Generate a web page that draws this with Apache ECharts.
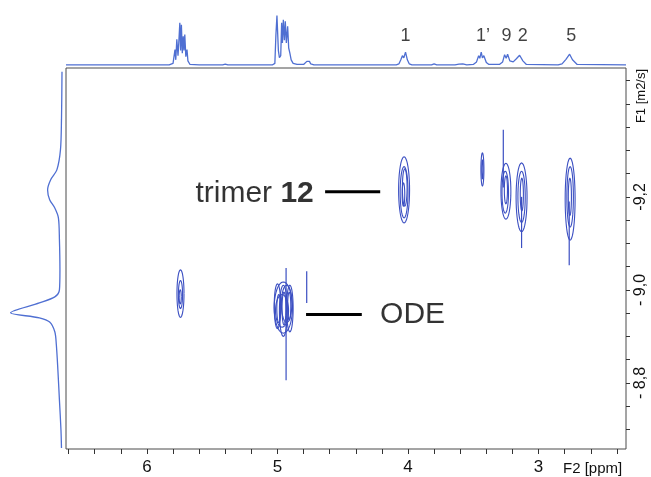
<!DOCTYPE html>
<html>
<head>
<meta charset="utf-8">
<script src="https://cdn.jsdelivr.net/npm/echarts@6/dist/echarts.min.js"></script>
<style>
  html, body { margin: 0; padding: 0; background: #fff; }
  #c1 { width: 651px; height: 477px; }
</style>
</head>
<body>
<div id="c1"></div>
<script>
// axis ranges (F2 in ppm, F1 = log D)
var f2Min = 2.33, f2Max = 6.62;
var f1Min = -9.477, f1Max = -8.658;

var f2Ticks = [6.6, 6.4, 6.2, 6.0, 5.8, 5.6, 5.4, 5.2, 5.0, 4.8, 4.6, 4.4, 4.2, 4.0, 3.8, 3.6, 3.4, 3.2, 3.0, 2.8, 2.6, 2.4];
var f2Labels = [6, 5, 4, 3];
var f1Ticks = [-9.45, -9.4, -9.35, -9.3, -9.25, -9.2, -9.15, -9.1, -9.05, -9.0, -8.95, -8.9, -8.85, -8.8, -8.75, -8.7];
var f1Labels = [-9.2, -9.0, -8.8];
var f1LabelText = { "-9.2": "-9,2", "-9.0": "- 9,0", "-8.8": "- 8,8" };

// 1D proton trace on top
var topPpm = [6.62, 5.83, 5.80, 5.785, 5.779, 5.771, 5.762, 5.756, 5.748, 5.742, 5.736, 5.729, 5.722, 5.716, 5.710, 5.702, 5.693, 5.686, 5.679, 5.67, 5.60,
  5.42, 5.40, 5.38, 5.04, 5.02, 5.012, 5.004, 4.999, 4.993, 4.985, 4.975, 4.968, 4.962, 4.955, 4.947, 4.94, 4.932, 4.922, 4.914, 4.905, 4.895, 4.88, 4.85,
  4.80, 4.785, 4.775, 4.765, 4.755, 4.745, 4.72, 4.09, 4.07, 4.055, 4.043, 4.032, 4.019, 4.005, 3.99, 3.97, 3.82, 3.80, 3.78,
  3.64, 3.625, 3.61, 3.595, 3.58, 3.565, 3.55, 3.50, 3.475, 3.459, 3.45, 3.439, 3.43, 3.419, 3.40, 3.38, 3.30, 3.275, 3.26, 3.248, 3.237, 3.22,
  3.194, 3.17, 3.145, 3.12, 3.093, 2.85, 2.82, 2.79, 2.762, 2.74, 2.704, 2.33];
var topInt = [0.02, 0.02, 0.05, 0.32, 0.12, 0.52, 0.2, 0.45, 0.84, 0.3, 0.8, 0.25, 0.58, 0.3, 0.61, 0.18, 0.32, 0.1, 0.1, 0.03, 0.02,
  0.02, 0.035, 0.02, 0.02, 0.05, 0.6, 0.98, 1.0, 0.3, 0.16, 0.2, 0.84, 0.45, 0.9, 0.5, 0.87, 0.45, 0.77, 0.35, 0.25, 0.12, 0.05, 0.03,
  0.03, 0.05, 0.09, 0.06, 0.09, 0.04, 0.02, 0.02, 0.04, 0.12, 0.2, 0.16, 0.27, 0.12, 0.04, 0.02, 0.02, 0.04, 0.02,
  0.02, 0.05, 0.035, 0.05, 0.04, 0.05, 0.02, 0.03, 0.08, 0.2, 0.15, 0.27, 0.16, 0.2, 0.07, 0.03, 0.03, 0.08, 0.22, 0.15, 0.23, 0.1,
  0.08, 0.14, 0.21, 0.1, 0.03, 0.02, 0.04, 0.13, 0.23, 0.12, 0.03, 0.02];

// diffusion projection on the left
var leftF1 = [-9.469, -9.366, -9.301, -9.258, -9.237, -9.215, -9.194, -9.176, -9.155, -9.108, -9.043, -9.0, -8.985, -8.972, -8.951, -8.940, -8.931, -8.910, -8.882, -8.828, -8.763, -8.699, -8.660];
var leftInt = [0, 0.01, 0.03, 0.1, 0.22, 0.28, 0.24, 0.14, 0.07, 0.05, 0.04, 0.05, 0.14, 0.44, 1.0, 0.44, 0.24, 0.14, 0.11, 0.08, 0.05, 0.02, 0.01];

// contour rings: [ppm, logD, half width ppm, half height logD]
var contours = [
  [5.743, -8.992, 0.027, 0.051], [5.743, -8.99, 0.016, 0.03], [5.745, -8.985, 0.008, 0.015],
  [4.955, -8.962, 0.07, 0.055], [5.00, -8.965, 0.025, 0.048], [4.955, -8.955, 0.03, 0.055], [4.905, -8.96, 0.025, 0.05],
  [4.99, -8.96, 0.015, 0.03], [4.95, -8.96, 0.015, 0.035], [4.91, -8.965, 0.012, 0.03], [4.965, -8.955, 0.05, 0.035], [4.93, -8.97, 0.04, 0.04],
  [4.03, -9.215, 0.042, 0.071], [4.03, -9.21, 0.03, 0.055], [4.025, -9.22, 0.018, 0.04], [4.035, -9.205, 0.01, 0.025],
  [3.43, -9.259, 0.0115, 0.0355], [3.43, -9.259, 0.005, 0.02],
  [3.25, -9.212, 0.038, 0.06], [3.255, -9.21, 0.025, 0.045], [3.25, -9.215, 0.012, 0.03],
  [3.13, -9.199, 0.042, 0.074], [3.13, -9.2, 0.028, 0.055], [3.128, -9.205, 0.012, 0.035],
  [2.758, -9.195, 0.038, 0.088], [2.758, -9.2, 0.025, 0.065], [2.76, -9.2, 0.012, 0.04]
];
// thin vertical streaks: [ppm, logD from, logD to]
var streaks = [
  [4.934, -9.047, -8.806], [4.776, -9.04, -8.972], [3.27, -9.344, -9.22], [3.13, -9.2, -9.09], [2.765, -9.19, -9.053]
];

var peakNames = ["1", "1\u2019", "9", "2", "5"];
var peakPpm = [4.02, 3.425, 3.245, 3.12, 2.75];

var specColor = "#4f6fd2";
var contourColor = "#3b4fc2";
var textFont = "Liberation Sans, Arial, sans-serif";

var chartDom = document.getElementById("c1");
var myChart = echarts.init(chartDom);

var topData = topPpm.map(function (p, i) { return [p, topInt[i]]; });
var leftData = leftF1.map(function (v, i) { return [leftInt[i], v]; });
var peakData = peakPpm.map(function (p, i) { return { name: peakNames[i], value: [p, 0.59] }; });

function ellipse(params, api) {
  var c = api.coord([api.value(0), api.value(1)]);
  var s = api.size([api.value(2), api.value(3)]);
  var pts = [];
  for (var k = 0; k <= 40; k++) {
    var t = (k / 40) * Math.PI * 2;
    pts.push([c[0] + s[0] * Math.cos(t), c[1] + s[1] * Math.sin(t)]);
  }
  return {
    type: "polyline",
    shape: { points: pts },
    style: { fill: null, stroke: contourColor, lineWidth: 1.1 }
  };
}

function streak(params, api) {
  var a = api.coord([api.value(0), api.value(1)]);
  var b = api.coord([api.value(0), api.value(2)]);
  return {
    type: "line",
    shape: { x1: a[0], y1: a[1], x2: b[0], y2: b[1] },
    style: { stroke: contourColor, lineWidth: 1.2 }
  };
}

var option = {
  animation: false,
  grid: [
    { left: 66, top: 68, width: 560, height: 381, show: true, borderColor: "#4a4a4a", borderWidth: 1, backgroundColor: "#fff" },
    { left: 66, top: 12, width: 560, height: 54 },
    { left: 8, top: 68, width: 54, height: 381 }
  ],
  xAxis: [
    {
      gridIndex: 0, type: "value", inverse: true, min: f2Min, max: f2Max, position: "bottom",
      axisLine: { show: false },
      axisTick: { show: true, length: 5, inside: false, customValues: f2Ticks, lineStyle: { color: "#333" } },
      axisLabel: { customValues: f2Labels, fontSize: 17, color: "#111", margin: 10, fontFamily: textFont },
      splitLine: { show: false }
    },
    { gridIndex: 1, type: "value", inverse: true, min: f2Min, max: f2Max, show: false },
    { gridIndex: 2, type: "value", inverse: true, min: 0, max: 1.05, show: false }
  ],
  yAxis: [
    {
      gridIndex: 0, type: "value", inverse: true, min: f1Min, max: f1Max, position: "right",
      axisLine: { show: false },
      axisTick: { show: true, length: 4, inside: false, customValues: f1Ticks, lineStyle: { color: "#333" } },
      axisLabel: {
        customValues: f1Labels, fontSize: 16, color: "#111", rotate: 90, margin: 7, fontFamily: textFont,
        formatter: function (v) { return f1LabelText[v.toFixed(1)] || ""; }
      },
      splitLine: { show: false }
    },
    { gridIndex: 1, type: "value", min: 0, max: 1.05, show: false },
    { gridIndex: 2, type: "value", inverse: true, min: f1Min, max: f1Max, show: false }
  ],
  graphic: [
    { type: "text", x: 563, y: 469, style: { text: "F2 [ppm]", font: "15px " + textFont, fill: "#111", textVerticalAlign: "middle" } },
    { type: "text", x: 641, y: 96, rotation: Math.PI / 2, style: { text: "F1 [m2/s]", font: "13px " + textFont, fill: "#111", textAlign: "center", textVerticalAlign: "middle" } }
  ],
  series: [
    {
      name: "1H", type: "line", xAxisIndex: 1, yAxisIndex: 1, data: topData,
      symbol: "none", lineStyle: { color: specColor, width: 1.3 }, silent: true
    },
    {
      name: "F1 projection", type: "line", xAxisIndex: 2, yAxisIndex: 2, data: leftData,
      symbol: "none", smooth: 0.3, lineStyle: { color: specColor, width: 1.3 }, silent: true
    },
    {
      name: "peaks", type: "scatter", xAxisIndex: 1, yAxisIndex: 1, data: peakData, symbolSize: 0,
      label: { show: true, position: "inside", formatter: "{b}", fontSize: 18, color: "#111", fontFamily: textFont }
    },
    {
      name: "contours", type: "custom", xAxisIndex: 0, yAxisIndex: 0, data: contours,
      renderItem: ellipse, clip: true, encode: { x: 0, y: 1 }
    },
    {
      name: "streaks", type: "custom", xAxisIndex: 0, yAxisIndex: 0, data: streaks,
      renderItem: streak, clip: true, encode: { x: 0, y: [1, 2] }
    },
    {
      name: "trimer line", type: "line", xAxisIndex: 0, yAxisIndex: 0, data: [[4.635, -9.211], [4.213, -9.211]],
      symbol: "none", lineStyle: { color: "#000", width: 3 }
    },
    {
      name: "ODE line", type: "line", xAxisIndex: 0, yAxisIndex: 0, data: [[4.781, -8.947], [4.354, -8.947]],
      symbol: "none", lineStyle: { color: "#000", width: 3 }
    },
    {
      name: "labels", type: "scatter", xAxisIndex: 0, yAxisIndex: 0, symbolSize: 0,
      data: [
        { value: [4.722, -9.206], label: { position: "left", distance: 0, formatter: "{a|trimer }{b|12}" } },
        { value: [4.214, -8.946], label: { position: "right", distance: 0, formatter: "{a|ODE}" } }
      ],
      label: {
        show: true, color: "#000",
        rich: {
          a: { fontSize: 30, fontFamily: textFont, color: "#000" },
          b: { fontSize: 30, fontFamily: textFont, fontWeight: "bold", color: "#000" }
        }
      }
    }
  ]
};

myChart.setOption(option);
window.addEventListener("resize", function () {
  myChart.resize();
});
</script>
</body>
</html>
